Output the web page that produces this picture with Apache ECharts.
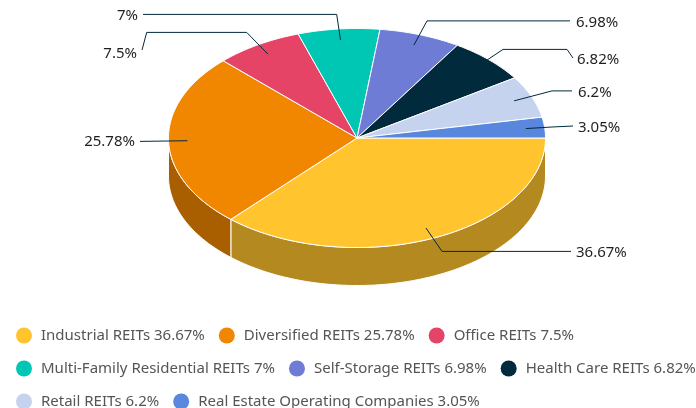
<!DOCTYPE html>
<html>
<head>
<meta charset="utf-8">
<style>html,body{margin:0;padding:0;background:#fff;overflow:hidden}#c{width:696px;height:408px}</style>
<script src="https://cdn.jsdelivr.net/npm/echarts@6/dist/echarts.min.js"></script>
</head>
<body>
<div id="c"></div>
<script>
const categories = ['Industrial REITs','Diversified REITs','Office REITs','Multi-Family Residential REITs','Self-Storage REITs','Health Care REITs','Retail REITs','Real Estate Operating Companies'];
const values = [36.67,25.78,7.5,7,6.98,6.82,6.2,3.05];
const colors = ['#FFC42E','#F18700','#E54466','#00C6B4','#6E7CD6','#012A3C','#C6D3EE','#5887DD'];

// Disc geometry
const CX = 357, CY = 138, RX = 188.5, RY = 109.5, DEPTH = 38, ANCHOR = 0.9;
// Leader elbows and label placement (layout only)
const leaders = [
  {pts:[[442,251.4],[571,251.4]], tx:576, ty:253, align:'left'},
  {pts:[[140,141.4]], tx:135, ty:142, align:'right'},
  {pts:[[246.7,32.4],[146.7,32.4],[142,50]], tx:137, ty:54, align:'right'},
  {pts:[[336.7,14.4],[143,14.4]], tx:138, ty:16, align:'right'},
  {pts:[[427,20.9],[570,20.9]], tx:576, ty:23, align:'left'},
  {pts:[[503,49.4],[567,49.4],[573,58]], tx:577, ty:60, align:'left'},
  {pts:[[552,90.9],[572,90.9]], tx:578, ty:93, align:'left'},
  {pts:[[552,127],[573,126]], tx:578, ty:128, align:'left'}
];

const total = values.reduce((a,b)=>a+b,0);
const starts = values.map((_,i)=>values.slice(0,i).reduce((a,b)=>a+b,0));

function pt(a, y0){ return [CX+RX*Math.cos(a), (y0===undefined?CY:y0)+RY*Math.sin(a)]; }
function arc(a0,a1,y0){
  const n = Math.max(2, Math.ceil(Math.abs(a1-a0)/(Math.PI/180)));
  const out=[];
  for(let k=0;k<=n;k++) out.push(pt(a0+(a1-a0)*k/n,y0));
  return out;
}
function darken(hex){
  const n=parseInt(hex.slice(1),16);
  const f=c=>Math.round(c*0.7);
  return 'rgb('+f(n>>16&255)+','+f(n>>8&255)+','+f(n&255)+')';
}

function makeRender(i){
  return function(params, api){
    const v = api.value(0);
    const a0 = starts[i]/total*2*Math.PI;
    const a1 = a0 + v/total*2*Math.PI;
    const children = [];
    // visible outer wall: the part of the rim facing the viewer
    const w0 = a0, w1 = Math.min(a1, Math.PI);
    if (w0 < Math.PI) {
      const front = arc(w0,w1);
      const back = arc(w1,w0,CY+DEPTH);
      children.push({type:'polygon', z2:1, shape:{points:front.concat(back)},
        style:{fill:darken(colors[i]), stroke:'#fff', lineWidth:1, lineJoin:'round'}});
    }
    // top face
    const top = [[CX,CY]].concat(arc(a0,a1));
    children.push({type:'polygon', z2:2, shape:{points:top},
      style:{fill:colors[i], stroke:'#fff', lineWidth:1, lineJoin:'round'}});
    return {type:'group', children};
  };
}
function makeLabelRender(i){
  return function(params, api){
    const v = api.value(0);
    const mid = (starts[i]+v/2)/total*2*Math.PI;
    const s = [CX+ANCHOR*RX*Math.cos(mid), CY+ANCHOR*RY*Math.sin(mid)];
    const L = leaders[i];
    return {type:'group', children:[
      {type:'polyline', z2:10, shape:{points:[s].concat(L.pts)},
        style:{fill:null, stroke:'#012A3C', lineWidth:1}},
      {type:'text', z2:11, style:{x:L.tx, y:L.ty, text:v+'%', fill:'#1f1f1f',
        font:'15px "Noto Sans"', align:L.align, verticalAlign:'middle'}}
    ]};
  };
}

const series = categories.map((name,i)=>({
  type:'custom', name:name+' '+values[i]+'%', coordinateSystem:'none', silent:true, z:2,
  itemStyle:{color:colors[i]}, data:[[values[i]]], renderItem:makeRender(i), animation:false
}));
const labelSeries = categories.map((name,i)=>({
  type:'custom', name:'label'+i, coordinateSystem:'none', silent:true, z:5,
  data:[[values[i]]], renderItem:makeLabelRender(i), animation:false
}));

const chart = echarts.init(document.getElementById('c'), null, {renderer:'canvas'});
chart.setOption({
  animation:false,
  backgroundColor:'#fff',
  legend:{
    left:16, top:326, width:680, orient:'horizontal', align:'left', padding:0,
    icon:'circle', itemWidth:16, itemHeight:16, itemGap:14,
    selectedMode:false,
    data:series.map(s=>s.name),
    textStyle:{fontFamily:'Noto Sans', fontSize:15, color:'#555', lineHeight:19, padding:[0,0,0,4]}
  },
  series:series.concat(labelSeries)
});
</script>
</body>
</html>
